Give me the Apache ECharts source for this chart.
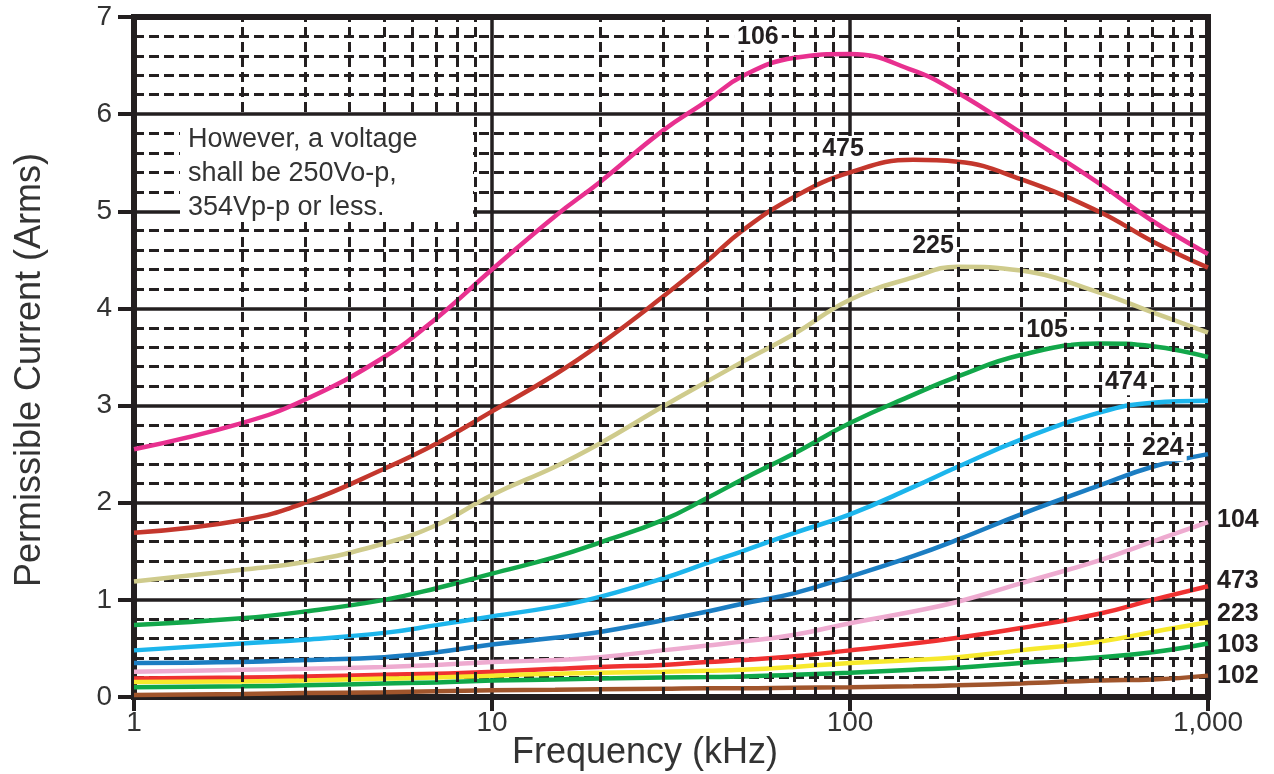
<!DOCTYPE html>
<html>
<head>
<meta charset="utf-8">
<script src="https://cdn.jsdelivr.net/npm/echarts@6/dist/echarts.min.js"></script>
<style>
html,body{margin:0;padding:0;background:#fff;}
#chart{width:1274px;height:774px;}
</style>
</head>
<body>
<div id="chart"></div>
<script>
// ---- data ----
const freq = [1,2,3,5,7,10,15,20,30,40,50,70,100,150,200,300,500,700,1000];
const c106 = [2.55,2.82,3.06,3.50,3.90,4.40,4.95,5.30,5.83,6.14,6.39,6.58,6.62,6.45,6.22,5.81,5.28,4.90,4.56];
const c475 = [1.69,1.82,2.00,2.35,2.61,2.94,3.32,3.63,4.12,4.49,4.80,5.15,5.40,5.53,5.51,5.33,4.99,4.69,4.42];
const c225 = [1.19,1.31,1.39,1.58,1.77,2.08,2.37,2.61,2.99,3.25,3.45,3.74,4.09,4.32,4.43,4.39,4.16,3.96,3.75];
const c105 = [0.74,0.81,0.88,1.00,1.12,1.27,1.44,1.59,1.82,2.05,2.24,2.51,2.82,3.11,3.30,3.52,3.64,3.61,3.50];
const c474 = [0.48,0.55,0.59,0.66,0.74,0.83,0.93,1.03,1.22,1.38,1.50,1.69,1.88,2.16,2.37,2.65,2.93,3.03,3.05];
const c224 = [0.35,0.36,0.38,0.41,0.46,0.54,0.61,0.67,0.79,0.88,0.96,1.07,1.24,1.45,1.62,1.88,2.18,2.37,2.50];
const c104 = [0.26,0.28,0.29,0.31,0.33,0.36,0.38,0.41,0.48,0.53,0.57,0.64,0.76,0.88,0.98,1.17,1.41,1.60,1.80];
const c473 = [0.19,0.20,0.21,0.23,0.24,0.26,0.29,0.31,0.33,0.36,0.38,0.42,0.48,0.55,0.61,0.71,0.86,1.00,1.14];
const c223 = [0.155,0.16,0.17,0.19,0.20,0.22,0.24,0.25,0.26,0.27,0.28,0.31,0.35,0.38,0.41,0.48,0.57,0.67,0.77];
const c103 = [0.10,0.11,0.12,0.14,0.15,0.17,0.18,0.19,0.20,0.205,0.21,0.23,0.25,0.28,0.30,0.35,0.41,0.46,0.55];
const c102 = [0.02,0.03,0.04,0.05,0.06,0.07,0.075,0.08,0.085,0.09,0.09,0.095,0.10,0.11,0.12,0.14,0.17,0.18,0.22];

const seriesNames = ['106','475','225','105','474','224','104','473','223','103','102'];
const seriesValues = [c106,c475,c225,c105,c474,c224,c104,c473,c223,c103,c102];
const seriesColors = ['#e8308f','#c4372d','#cfcb8c','#12a74a','#1cb5ec','#1b7dc2','#eeabd0','#ef3131','#f7e92c','#0fa84a','#a0552c'];

// inner curve labels (data coordinates)
const innerLabelNames = ['106','475','225','105','474','224'];
const innerLabelX = [55.3, 95.6, 170.6, 355, 590, 748];
const innerLabelY = [6.79, 5.64, 4.64, 3.78, 3.24, 2.56];
// right-end labels
const endLabelNames = ['104','473','223','103','102'];
const endLabelDy = [-2,-5,-8,2,0];

const xTickLabels = {1:'1',10:'10',100:'100',1000:'1,000'};
const minorFreqs = [2,3,4,5,6,7,8,9,20,30,40,50,60,70,80,90,200,300,400,500,600,700,800,900];
const noteLines = ['However, a voltage','shall be 250Vo-p,','354Vp-p or less.'];

// ---- chart ----
const INK = '#231f20';
const FONT = '"Liberation Sans", Arial, Helvetica, sans-serif';
const chart = echarts.init(document.getElementById('chart'), null, {renderer:'canvas'});

const series = [{
  type:'line', z:1, data:[], silent:true, animation:false,
  markLine:{
    silent:true, animation:false, symbol:['none','none'],
    label:{show:false},
    lineStyle:{color:INK, width:3, type:[10,5]},
    emphasis:{disabled:true},
    data: minorFreqs.map(v => ({xAxis:v}))
  }
}];

seriesNames.forEach((name, i) => {
  const s = {
    name, type:'line', z:3, smooth:0.45, symbol:'none', animation:false,
    data: freq.map((f, k) => [f, seriesValues[i][k]]),
    lineStyle:{color:seriesColors[i], width:4.5},
    itemStyle:{color:seriesColors[i]}
  };
  const li = innerLabelNames.indexOf(name);
  if (li >= 0) {
    s.markPoint = {
      symbol:'circle', symbolSize:0, animation:false, silent:true,
      label:{show:true, position:'inside', formatter:'{b}', color:INK, fontFamily:FONT,
             fontWeight:'bold', fontSize:25, backgroundColor:'#fff', padding:[1,3,0,3]},
      data:[{name, coord:[innerLabelX[li], innerLabelY[li]]}]
    };
  }
  const ei = endLabelNames.indexOf(name);
  if (ei >= 0) {
    s.endLabel = {show:true, formatter:name, color:INK, fontFamily:FONT, fontWeight:'bold',
                  fontSize:25, distance:9, offset:[0, endLabelDy[ei]]};
  }
  series.push(s);
});

chart.setOption({
  animation:false,
  backgroundColor:'#fff',
  grid:{left:134, right:66, top:17, bottom:77, show:true, borderColor:INK, borderWidth:6,
        containLabel:false, outerBoundsMode:'none'},
  xAxis:{
    type:'log', logBase:10, min:1, max:1000,
    name:'Frequency (kHz)', nameLocation:'middle', nameGap:38, nameMoveOverlap:false,
    nameTextStyle:{fontFamily:FONT, fontSize:36, color:'#333', padding:[0,52,0,0]},
    axisLine:{show:true, lineStyle:{color:INK, width:6}},
    axisTick:{show:true, length:14, lineStyle:{color:INK, width:4}},
    axisLabel:{fontFamily:FONT, fontSize:28, color:'#333', margin:12,
               formatter: v => xTickLabels[Math.round(v)] || ''},
    splitLine:{show:true, lineStyle:{color:INK, width:3.5}},
    minorTick:{show:false}, minorSplitLine:{show:false}
  },
  yAxis:{
    type:'value', min:0, max:7, interval:1,
    name:'Permissible Current (Arms)', nameLocation:'middle', nameGap:86, nameMoveOverlap:false,
    nameTextStyle:{fontFamily:FONT, fontSize:36, color:'#333', padding:[0,26,0,0]},
    axisLine:{show:true, lineStyle:{color:INK, width:6}},
    axisTick:{show:true, length:16, lineStyle:{color:INK, width:4}},
    axisLabel:{fontFamily:FONT, fontSize:28, color:'#333', margin:22},
    splitLine:{show:true, lineStyle:{color:INK, width:3.5}},
    minorTick:{show:false, splitNumber:5},
    minorSplitLine:{show:true, lineStyle:{color:INK, width:3, type:[10,5]}}
  },
  graphic:[
    {type:'rect', left:180, top:117, z:100, shape:{width:293, height:102}, style:{fill:'#fff'}},
    {type:'text', left:188, top:123, z:101, style:{text:noteLines.join('\n'), fontFamily:FONT, fontSize:27,
      lineHeight:34, fill:'#333'}}
  ],
  series
});
</script>
</body>
</html>
